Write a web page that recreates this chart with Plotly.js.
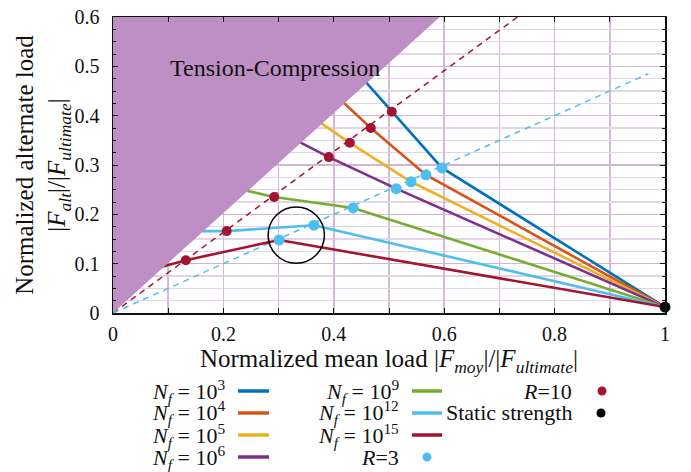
<!DOCTYPE html>
<html><head><meta charset="utf-8">
<script src="https://cdn.plot.ly/plotly-3.0.1.min.js"></script>
<style>html,body{margin:0;padding:0;background:#fff}#chart{width:691px;height:472px}</style>
</head><body><div id="chart"></div>
<script>
// ---- data ----
const seriesLabels = [
  '<i>N<sub>f</sub></i> = 10<sup>3</sup>',
  '<i>N<sub>f</sub></i> = 10<sup>4</sup>',
  '<i>N<sub>f</sub></i> = 10<sup>5</sup>',
  '<i>N<sub>f</sub></i> = 10<sup>6</sup>',
  '<i>N<sub>f</sub></i> = 10<sup>9</sup>',
  '<i>N<sub>f</sub></i> = 10<sup>12</sup>',
  '<i>N<sub>f</sub></i> = 10<sup>15</sup>'
];
const seriesColors = ['#0072BD','#D95319','#EDB120','#7E2F8E','#77AC30','#4DBEEE','#A2142F'];
// constant-life lines: start (under the tension-compression zone), R=10 point, R=3 point, static strength
const nf3X  = [0.436, 0.505, 0.596, 1.0]; const nf3Y  = [0.496, 0.408, 0.294, 0.012];
const nf4X  = [0.396, 0.467, 0.567, 1.0]; const nf4Y  = [0.449, 0.375, 0.280, 0.012];
const nf5X  = [0.357, 0.429, 0.540, 1.0]; const nf5Y  = [0.400, 0.345, 0.266, 0.012];
const nf6X  = [0.318, 0.391, 0.513, 1.0]; const nf6Y  = [0.358, 0.316, 0.252, 0.012];
const nf9X  = [0.222, 0.292, 0.435, 1.0]; const nf9Y  = [0.253, 0.235, 0.213, 0.012];
const nf12X = [0.137, 0.206, 0.364, 1.0]; const nf12Y = [0.166, 0.166, 0.178, 0.012];
const nf15X = [0.070, 0.132, 0.301, 1.0]; const nf15Y = [0.088, 0.107, 0.148, 0.012];
// R = 10 points
const r10X = [0.505, 0.467, 0.429, 0.391, 0.292, 0.206, 0.132];
const r10Y = [0.408, 0.375, 0.345, 0.316, 0.235, 0.166, 0.107];
// R = 3 points
const r3X = [0.596, 0.567, 0.540, 0.513, 0.435, 0.364, 0.301];
const r3Y = [0.294, 0.280, 0.266, 0.252, 0.213, 0.178, 0.148];
// R lines
const r10LineX = [0, 0.733]; const r10LineY = [0, 0.6];
const r3LineX  = [0, 0.97];  const r3LineY  = [0, 0.485];
// static strength
const staticX = [1.0]; const staticY = [0.012];
// tension-compression region
const tcX = [0, 0, 0.592, 0]; const tcY = [0, 0.6, 0.6, 0];

const FONT = 'Liberation Serif, Times New Roman, serif';
const lineX = [nf3X, nf4X, nf5X, nf6X, nf9X, nf12X, nf15X];
const lineY = [nf3Y, nf4Y, nf5Y, nf6Y, nf9Y, nf12Y, nf15Y];

const traces = [];
traces.push({x: r10LineX, y: r10LineY, mode: 'lines', line: {color: '#A2142F', width: 1.5, dash: '6px,5px'}, showlegend: false});
traces.push({x: r3LineX, y: r3LineY, mode: 'lines', line: {color: '#4DBEEE', width: 1.5, dash: '6px,5px'}, showlegend: false});
for (let i = 0; i < lineX.length; i++) {
  traces.push({x: lineX[i], y: lineY[i], mode: 'lines', line: {color: seriesColors[i], width: 2.6}, showlegend: false, cliponaxis: false});
}
traces.push({x: tcX, y: tcY, mode: 'lines', fill: 'toself', fillcolor: 'rgb(190,143,196)',
  line: {width: 0, color: 'rgba(0,0,0,0)'}, hoverinfo: 'skip', showlegend: false});
traces.push({x: r10X, y: r10Y, mode: 'markers', marker: {color: '#A2142F', size: 10}, showlegend: false});
traces.push({x: r3X, y: r3Y, mode: 'markers', marker: {color: '#4DBEEE', size: 11}, showlegend: false});
traces.push({x: staticX, y: staticY, mode: 'markers', marker: {color: '#000', size: 11}, showlegend: false, cliponaxis: false});

// custom legend (pixel-placed relative to plot area)
const L = 113, W = 552, B = 313, H = 296;
const px = v => (v - L) / W, py = v => (B - v) / H;
const annotations = [
  {x: 0.293, y: 0.497, xref: 'x', yref: 'y', text: 'Tension-Compression', showarrow: false,
   font: {family: FONT, size: 24, color: '#111'}}
];
const shapes = [
  {type: 'circle', xref: 'x', yref: 'y', x0: 0.281, x1: 0.383, y0: 0.101, y1: 0.215,
   line: {color: '#000', width: 1.5}}
];
const rowY = [391, 413, 435, 457];
const legendItems = [
  {col: 0, row: 0, s: 0}, {col: 0, row: 1, s: 1}, {col: 0, row: 2, s: 2}, {col: 0, row: 3, s: 3},
  {col: 1, row: 0, s: 4}, {col: 1, row: 1, s: 5}, {col: 1, row: 2, s: 6}
];
const colTextRight = [227, 401];
const colSample = [[238, 269], [412, 442]];
const LEGFONT = {family: FONT, size: 22, color: '#111'};
legendItems.forEach(it => {
  annotations.push({x: px(colTextRight[it.col]), y: py(rowY[it.row]), xref: 'paper', yref: 'paper',
    xanchor: 'right', yanchor: 'middle', showarrow: false, text: seriesLabels[it.s], font: LEGFONT});
  shapes.push({type: 'line', xref: 'paper', yref: 'paper', x0: px(colSample[it.col][0]), x1: px(colSample[it.col][1]),
    y0: py(rowY[it.row]), y1: py(rowY[it.row]), line: {color: seriesColors[it.s], width: 3.5}});
});
const dotItems = [
  {text: '<i>R</i>=3', right: 401, dot: 427, row: 3, color: '#4DBEEE'},
  {text: '<i>R</i>=10', right: 574, dot: 602, row: 0, color: '#A2142F'},
  {text: 'Static strength', right: 574, dot: 601, row: 1, color: '#000'}
];
dotItems.forEach(d => {
  annotations.push({x: px(d.right), y: py(rowY[d.row]), xref: 'paper', yref: 'paper',
    xanchor: 'right', yanchor: 'middle', showarrow: false, text: d.text, font: LEGFONT});
  shapes.push({type: 'circle', xref: 'paper', yref: 'paper', xsizemode: 'pixel', ysizemode: 'pixel',
    xanchor: px(d.dot), yanchor: py(rowY[d.row]), x0: -4.5, x1: 4.5, y0: -4.5, y1: 4.5,
    fillcolor: d.color, line: {width: 0}});
});

const layout = {
  width: 691, height: 472,
  margin: {l: L, r: 691 - L - W, t: 17, b: 472 - B},
  paper_bgcolor: '#fff', plot_bgcolor: '#fff',
  showlegend: false,
  font: {family: FONT, size: 20, color: '#111'},
  xaxis: {
    range: [0, 1], dtick: 0.2, tick0: 0, showgrid: true, gridcolor: 'rgb(210,186,216)', gridwidth: 1.6,
    zeroline: false, showline: true, linecolor: '#111', linewidth: 1.5, mirror: 'ticks',
    ticks: 'inside', ticklen: 5, tickcolor: '#111', ticklabelstandoff: 2,
    minor: {dtick: 0.1, showgrid: true, gridcolor: 'rgb(210,186,216)', gridwidth: 1.6, ticks: 'inside', ticklen: 5, tickcolor: '#111'},
    tickfont: {family: FONT, size: 20},
    title: {text: 'Normalized mean load |<i>F<sub>moy</sub></i>|/|<i>F<sub>ultimate</sub></i>|', font: {family: FONT, size: 25}, standoff: 6}
  },
  yaxis: {
    range: [0, 0.6], dtick: 0.1, tick0: 0, showgrid: true, gridcolor: 'rgb(208,182,214)', gridwidth: 1.6,
    zeroline: false, showline: true, linecolor: '#111', linewidth: 1.5, mirror: 'ticks',
    ticks: 'inside', ticklen: 5, tickcolor: '#111', ticklabelstandoff: 8,
    minor: {dtick: 0.025, showgrid: true, gridcolor: 'rgb(228,212,232)', gridwidth: 1.3, ticks: 'inside', ticklen: 3, tickcolor: '#111'},
    tickfont: {family: FONT, size: 20},
    title: {text: 'Normalized alternate load<br>|<i>F<sub>alt</sub></i>|/|<i>F<sub>ultimate</sub></i>|', font: {family: FONT, size: 25}, standoff: 0}
  },
  annotations: annotations,
  shapes: shapes
};
Plotly.newPlot('chart', traces, layout, {displayModeBar: false, staticPlot: true});
</script>
</body></html>
